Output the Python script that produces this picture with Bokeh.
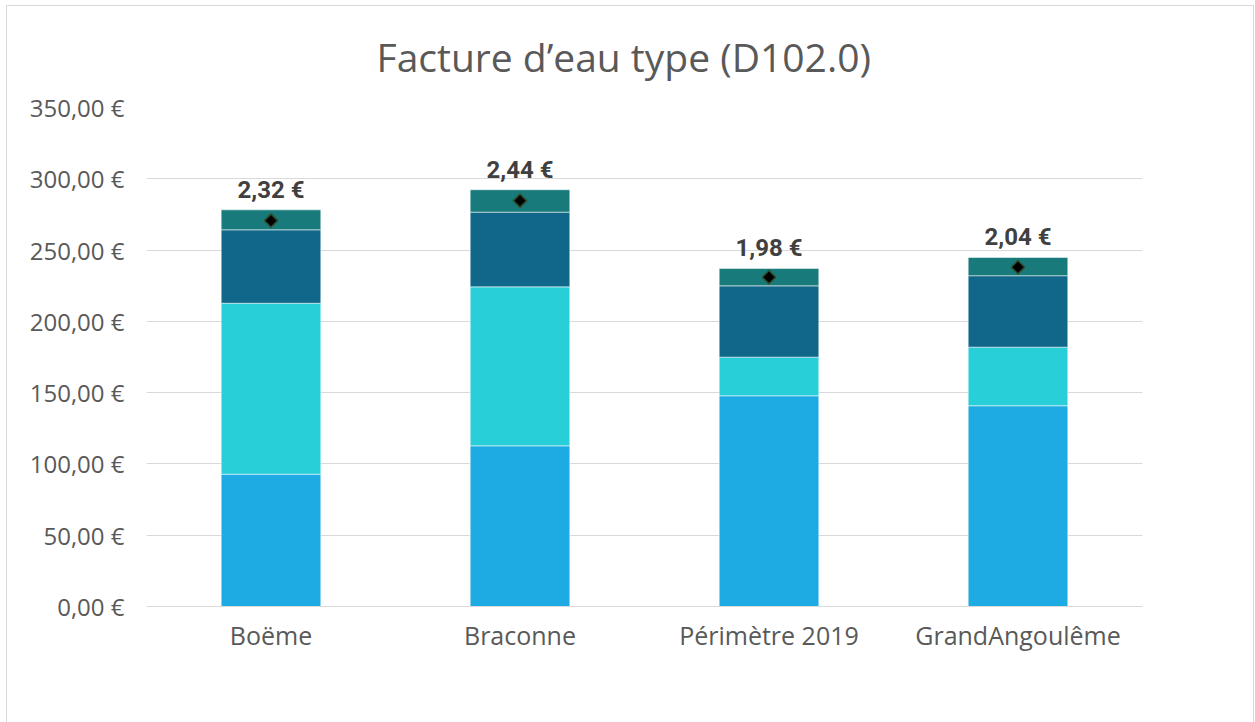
import math
from bokeh.plotting import figure
from bokeh.models import (ColumnDataSource, FactorRange, Range1d, Legend, LegendItem,
                          FixedTicker, CustomJSTickFormatter)
from bokeh.core.properties import value
from bokeh.embed import file_html
from bokeh.resources import INLINE

# ---------------- data ----------------
categories = ["Boëme", "Braconne", "Périmètre 2019", "GrandAngoulême"]
exploitant = [92.8, 112.7, 147.8, 140.8]
collectivite = [119.9, 111.5, 27.1, 41.1]
redevances = [51.5, 52.4, 50.0, 50.1]
tva = [14.0, 15.7, 12.2, 12.8]
prix = [2.32, 2.44, 1.98, 2.04]
series_keys = ["exploitant", "collectivite", "redevances", "tva"]
series_names = ["Exploitant", "Collectivité", "Redevances (agence de l'eau et autres)", "TVA"]
prix_name = "Prix [€ TTC/m3]"
y_ticks = [0, 50, 100, 150, 200, 250, 300, 350]
title_text = "Facture d\u2019eau type (D102.0)"

# ---------------- styles ----------------
colors = ["#1eabe3", "#28ced8", "#10678a", "#187a7b"]
FONT = "Open Sans"
GREY = "#595959"

totals = [a + b + c + d for a, b, c, d in zip(exploitant, collectivite, redevances, tva)]
labels = [("%.2f" % v).replace(".", ",") + " €" for v in prix]

source = ColumnDataSource(data=dict(
    cat=categories, exploitant=exploitant, collectivite=collectivite,
    redevances=redevances, tva=tva, prix=prix, total=totals, label=labels))

p = figure(x_range=FactorRange(*categories, range_padding=0),
           y_range=Range1d(0, 350),
           frame_width=996, frame_height=499, output_backend="svg", toolbar_location=None,
           min_border_left=139, min_border_right=111, min_border_top=99, min_border_bottom=0)
p.styles = {"border": "1px solid #d9d9d9", "margin-left": "6px", "margin-top": "5px"}
p.extra_y_ranges = {"prix": Range1d(0, 3)}

bars = p.vbar_stack(series_keys, x="cat", width=0.4, source=source, color=colors,
                    line_color="white", line_alpha=0.5, line_width=1)

pts = p.scatter(x="cat", y="prix", y_range_name="prix", source=source, marker="square",
                angle=math.pi / 4, size=9.5, fill_color="black", line_color="#2f4f2f",
                line_width=1.5)

p.text(x="cat", y="total", text="label", source=source, text_align="center",
       text_baseline="alphabetic", y_offset=-20, text_font=value("Roboto"),
       text_font_style="bold", text_font_size="24px", text_color="#404040")

# title
p.title.text = title_text
p.title.align = "left"
p.title.vertical_align = "top"
p.title.text_font = FONT
p.title.text_font_style = "normal"
p.title.text_font_size = "39px"
p.title.text_color = GREY
p.title.standoff = 46
p.title.offset = 230

# axes
p.outline_line_color = None
p.xgrid.grid_line_color = None
p.ygrid.grid_line_color = "#d9d9d9"
p.ygrid.grid_line_width = 1
p.yaxis.ticker = FixedTicker(ticks=y_ticks)
p.yaxis.formatter = CustomJSTickFormatter(code="return tick.toFixed(2).replace('.', ',') + ' \u20ac';")
p.yaxis.axis_line_color = None
p.yaxis.major_tick_line_color = None
p.yaxis.minor_tick_line_color = None
p.yaxis.major_label_standoff = 16
p.yaxis.major_label_text_font = FONT
p.yaxis.major_label_text_font_size = "24px"
p.yaxis.major_label_text_color = GREY

p.xaxis.axis_line_color = "#d9d9d9"
p.xaxis.major_tick_line_color = None
p.xaxis.minor_tick_line_color = None
p.xaxis.major_label_standoff = 5
p.xaxis.major_label_text_font = FONT
p.xaxis.major_label_text_font_size = "25px"
p.xaxis.major_label_text_color = GREY

items = [LegendItem(label=n, renderers=[r]) for n, r in zip(series_names, bars)]
items.append(LegendItem(label=prix_name, renderers=[pts]))
legend = Legend(items=items, orientation="horizontal", location="top_center",
                label_text_font=FONT, label_text_font_size="24px", label_text_color=GREY,
                glyph_width=11, glyph_height=11, label_standoff=7, spacing=26,
                padding=0, margin=26, border_line_color=None, background_fill_alpha=0)
p.add_layout(legend, "below")

open("out.html", "w").write(file_html(p, INLINE))
